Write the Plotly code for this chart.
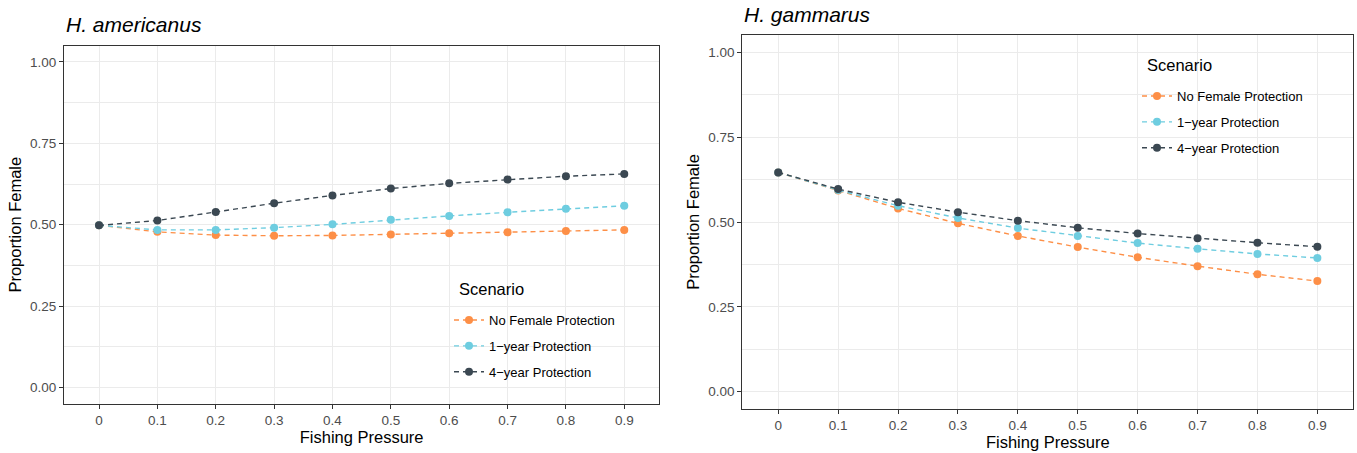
import plotly.graph_objects as go

categories = ["0", "0.1", "0.2", "0.3", "0.4", "0.5", "0.6", "0.7", "0.8", "0.9"]
scenarios = ["No Female Protection", "1\u2212year Protection", "4\u2212year Protection"]
colors = ["#FD8F47", "#6ECDE0", "#3B4852"]

amer_none = [0.498, 0.478, 0.468, 0.466, 0.467, 0.470, 0.474, 0.477, 0.481, 0.484]
amer_1yr = [0.498, 0.484, 0.484, 0.491, 0.501, 0.515, 0.527, 0.538, 0.549, 0.558]
amer_4yr = [0.498, 0.513, 0.539, 0.566, 0.590, 0.611, 0.627, 0.639, 0.649, 0.656]

gamm_none = [0.646, 0.593, 0.540, 0.496, 0.459, 0.426, 0.396, 0.370, 0.346, 0.326]
gamm_1yr = [0.646, 0.594, 0.548, 0.512, 0.482, 0.459, 0.438, 0.421, 0.406, 0.394]
gamm_4yr = [0.646, 0.597, 0.558, 0.529, 0.504, 0.483, 0.466, 0.452, 0.439, 0.427]

titles = ["H. americanus", "H. gammarus"]
legend_title = "Scenario"
y_ticks = [0.0, 0.25, 0.5, 0.75, 1.0]
y_ticktext = ["0.00", "0.25", "0.50", "0.75", "1.00"]

W, H = 1357, 453
FONT = "Liberation Sans, Arial, sans-serif"

fig = go.Figure()

panels = [
    dict(series=[amer_none, amer_1yr, amer_4yr], xa="x", ya="y", legend="legend"),
    dict(series=[gamm_none, gamm_1yr, gamm_4yr], xa="x2", ya="y2", legend="legend2"),
]

for p in panels:
    for i, (name, vals) in enumerate(zip(scenarios, p["series"])):
        fig.add_trace(go.Scatter(
            x=categories, y=vals, name=name, mode="lines+markers",
            xaxis=p["xa"], yaxis=p["ya"], legend=p["legend"],
            legendgroup=p["legend"] + str(i),
            line=dict(color=colors[i], width=1.4, dash="5px,4px"),
            marker=dict(color=colors[i], size=8),
        ))

# domains in pixels
left_dom_x = [64 / W, 659.3 / W]
right_dom_x = [742.3 / W, 1353.3 / W]
left_dom_y = [1 - 403.7 / H, 1 - 45.7 / H]
right_dom_y = [1 - 408.7 / H, 1 - 35.3 / H]

common_x = dict(
    type="category", categoryorder="array", categoryarray=categories,
    range=[-0.6, 9.6], showgrid=True, gridcolor="#EBEBEB", gridwidth=1.1,
    showline=True, linecolor="#333333", linewidth=1, mirror=True,
    ticks="outside", ticklen=4, tickcolor="#333333", tickwidth=1,
    tickfont=dict(family=FONT, size=13.5, color="#4D4D4D"),
    title=dict(text="Fishing Pressure", font=dict(family=FONT, size=16.5, color="#000000"), standoff=2),
    zeroline=False, automargin=False,
)
common_y = dict(
    range=[-0.05, 1.05], tickvals=y_ticks, ticktext=y_ticktext,
    showgrid=True, gridcolor="#EBEBEB", gridwidth=1.1,
    minor=dict(tickvals=[0.125, 0.375, 0.625, 0.875], showgrid=True, gridcolor="#EBEBEB", gridwidth=0.6, ticks=""),
    showline=True, linecolor="#333333", linewidth=1, mirror=True,
    ticks="outside", ticklen=4, tickcolor="#333333", tickwidth=1,
    tickfont=dict(family=FONT, size=13.5, color="#4D4D4D"),
    title=dict(text="Proportion Female", font=dict(family=FONT, size=16.5, color="#000000"), standoff=4),
    zeroline=False, automargin=False,
)

legend_common = dict(
    bgcolor="rgba(0,0,0,0)", borderwidth=0,
    font=dict(family=FONT, size=13, color="#000000"),
    traceorder="grouped", tracegroupgap=6, itemwidth=30,
    xanchor="left", yanchor="top",
)

# legend boxes (pixels): x0, x1, ytop, ybottom ; title centre y ; first item y
legend_boxes = [
    dict(x0=447, x1=634, top=272, bottom=393, title_x=457, title_y=289, first=319, lx=449),
    dict(x0=1137, x1=1328, top=55, bottom=174, title_x=1145, title_y=65, first=95, lx=1137),
]

shapes = []
annotations = []
for b in legend_boxes:
    shapes.append(dict(type="rect", xref="paper", yref="paper",
                       x0=b["x0"] / W, x1=b["x1"] / W, y0=1 - b["bottom"] / H, y1=1 - b["top"] / H,
                       fillcolor="#FFFFFF", line=dict(width=0), layer="between"))
    annotations.append(dict(text=legend_title, x=b["title_x"] / W, y=1 - b["title_y"] / H,
                            xref="paper", yref="paper", xanchor="left", yanchor="middle",
                            showarrow=False, font=dict(family=FONT, size=16.5, color="#000000")))

annotations.append(dict(text="<i>" + titles[0] + "</i>", x=64 / W, y=1 - 25 / H, xref="paper", yref="paper",
                        xanchor="left", yanchor="middle", showarrow=False,
                        font=dict(family=FONT, size=21, color="#000000")))
annotations.append(dict(text="<i>" + titles[1] + "</i>", x=742.3 / W, y=1 - 15 / H, xref="paper", yref="paper",
                        xanchor="left", yanchor="middle", showarrow=False,
                        font=dict(family=FONT, size=21, color="#000000")))

fig.update_layout(
    width=W, height=H,
    margin=dict(l=0, r=0, t=0, b=0, autoexpand=False),
    paper_bgcolor="#FFFFFF", plot_bgcolor="#FFFFFF",
    font=dict(family=FONT),
    xaxis=dict(domain=left_dom_x, anchor="y", **common_x),
    yaxis=dict(domain=left_dom_y, anchor="x", **common_y),
    xaxis2=dict(domain=right_dom_x, anchor="y2", **common_x),
    yaxis2=dict(domain=right_dom_y, anchor="x2", **common_y),
    legend=dict(x=legend_boxes[0]["lx"] / W, y=1 - (legend_boxes[0]["first"] - 14) / H, **legend_common),
    legend2=dict(x=legend_boxes[1]["lx"] / W, y=1 - (legend_boxes[1]["first"] - 14) / H, **legend_common),
    shapes=shapes,
    annotations=annotations,
    showlegend=True,
)

fig.write_html(
    "out.html",
    config=dict(displayModeBar=False),
    post_script="document.body.style.margin='0';document.body.style.padding='0';document.body.style.overflow='hidden';",
)
